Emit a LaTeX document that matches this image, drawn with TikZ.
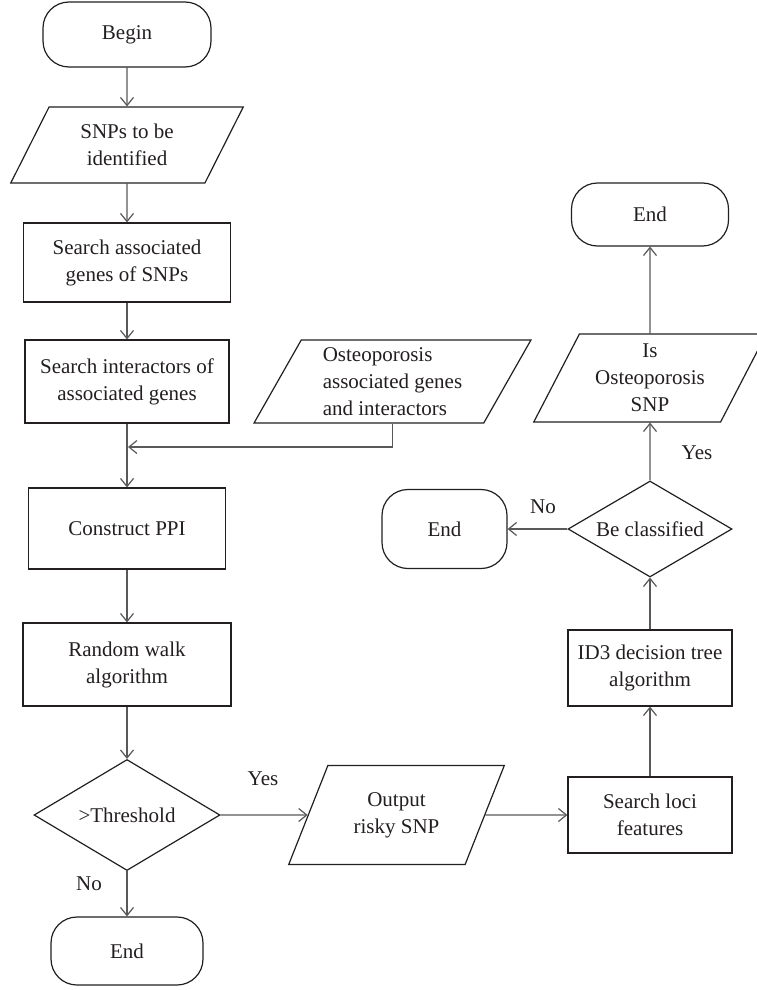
\documentclass[tikz,border=0pt]{standalone}
\usepackage{fontspec}
\setmainfont{Liberation Serif}
\usetikzlibrary{shapes.geometric,arrows.meta}
\pgfdeclarelayer{bg}
\pgfsetlayers{bg,main}
\definecolor{ink}{RGB}{35,31,32}
\definecolor{linegray}{RGB}{88,89,91}
\tikzset{
    every node/.style={font=\fontsize{10.5}{13.5}\selectfont, text=ink},
    box/.style={draw=ink, line width=.6pt, align=center, inner sep=2pt},
    term/.style={box, rectangle, rounded corners=13pt},
    proc/.style={box, rectangle},
    io/.style={box, trapezium, trapezium left angle=63.4,
    	trapezium right angle=116.6, trapezium stretches=true},
    choice/.style={box, diamond, aspect=1.7, inner sep=0pt},
    link/.style={draw=linegray, line width=.6pt,
    	-{Straight Barb[length=4pt,width=6.5pt]}}
}

\begin{document}
\begin{tikzpicture}[x=0.5pt, y=-0.5pt]
  \useasboundingbox (0,0) rectangle (756,990);

  \node (b0) [term, minimum width=84pt, minimum height=32.5pt] at (127,34.5) {Begin};
  \node (i1) [io, minimum width=116.5pt, minimum height=38pt] at (127,145) {SNPs to be\\identified};
  \node (p1) [proc, minimum width=103.5pt, minimum height=39.5pt] at (127,262.5) {Search associated\\genes of SNPs};
  \node (p2) [proc, minimum width=102pt, minimum height=41.5pt] at (127,381.5) {Search interactors of\\associated genes};
  \node (i2) [io, align=left, minimum width=138.5pt, minimum height=41.5pt] at (392.5,381.5) {Osteoporosis\\associated genes\\and interactors};
  \coordinate (m) at (128,447);
  \node (p3) [proc, minimum width=98.5pt, minimum height=40.5pt] at (127,528.5) {Construct PPI};
  \node (p4) [proc, minimum width=104pt, minimum height=41.5pt] at (127,664.5) {Random walk\\algorithm};
  \node (d1) [choice, minimum width=93pt, minimum height=55.5pt] at (127,815) {>Threshold};
  \node (e1) [term, minimum width=76pt, minimum height=34pt] at (127,951) {End};

  \node (i3) [io, minimum width=108.5pt, minimum height=49.5pt] at (396.5,815) {Output\\risky SNP};
  \node (p5) [proc, minimum width=82pt, minimum height=38pt] at (650,815) {Search loci\\features};
  \node (p6) [proc, minimum width=82pt, minimum height=38pt] at (650,668) {ID3 decision tree\\algorithm};
  \node (d2) [choice, minimum width=82pt, minimum height=48pt] at (650,529) {Be classified};
  \node (e2) [term, minimum width=62.5pt, minimum height=39.5pt] at (444.5,529) {End};
  \node (i4) [io, minimum width=116.5pt, minimum height=44pt] at (650,378) {Is\\Osteoporosis\\SNP};
  \node (e3) [term, minimum width=78.5pt, minimum height=31.5pt] at (650,214.5) {End};

  \node (y1) at (263,779) {Yes};
  \node (n1) at (89,884) {No};
  \node (n2) at (543,507) {No};
  \node (y2) at (697,453) {Yes};

  \begin{pgfonlayer}{bg}
	  \draw[link] (b0) edge (i1); \draw[link] (i1) edge (p1);
	  \draw[link] (p1) edge (p2); \draw[link] (p2) edge (p3);
	  \draw[link] (i2) |- (m);
	  \draw[link] (p3) edge (p4); \draw[link] (p4) edge (d1);
	  \draw[link] (d1) edge (e1); \draw[link] (d1) edge (i3);

	  \draw[link] (i3) edge (p5); \draw[link] (p5) edge (p6);
	  \draw[link] (p6) edge (d2); \draw[link] (d2) edge (e2);
	  \draw[link] (d2) edge (i4); \draw[link] (i4) edge (e3);
  \end{pgfonlayer}

\end{tikzpicture}
\end{document}
